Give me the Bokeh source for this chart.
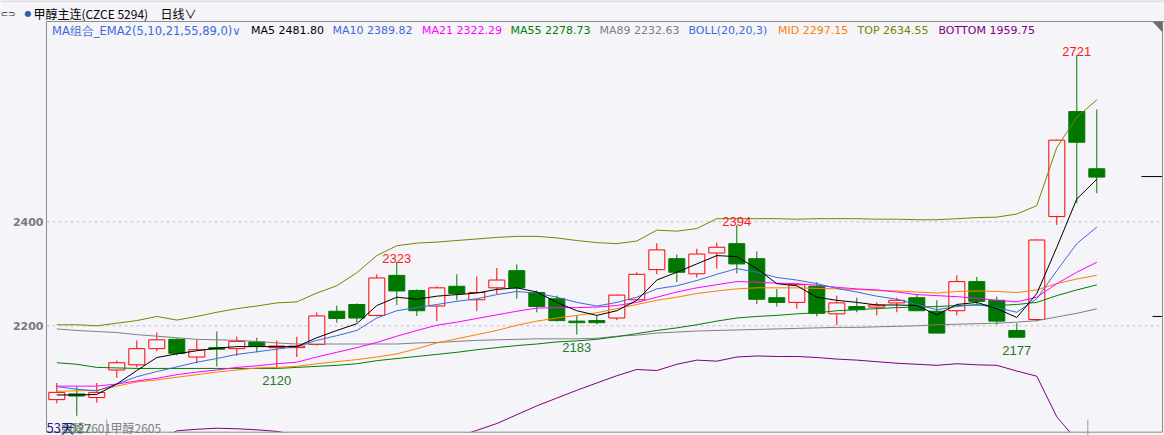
from bokeh.plotting import figure
from bokeh.models import Label, Range1d, ColumnDataSource
from bokeh.embed import file_html
from bokeh.resources import INLINE
from bokeh.core.properties import value

# ---------------- data (daily candles, 甲醇主连) ----------------
opens = [2058, 2069, 2062, 2115, 2125, 2156, 2174, 2140, 2158, 2156,
         2169, 2158, 2158, 2164, 2228, 2241, 2220, 2297, 2268, 2238,
         2276, 2250, 2273, 2306, 2264, 2252, 2209, 2210, 2215, 2250,
         2308, 2329, 2300, 2340, 2358, 2329, 2254, 2245, 2276, 2223,
         2237, 2236, 2244, 2254, 2228, 2229, 2285, 2249, 2191, 2212,
         2410, 2612, 2502]
highs = [2090, 2083, 2090, 2133, 2172, 2187, 2176, 2174, 2189, 2179,
         2177, 2172, 2179, 2226, 2239, 2243, 2299, 2323, 2270, 2276,
         2299, 2295, 2311, 2318, 2268, 2258, 2220, 2219, 2260, 2303,
         2359, 2337, 2348, 2360, 2394, 2343, 2271, 2282, 2284, 2258,
         2254, 2245, 2254, 2260, 2249, 2297, 2294, 2256, 2205, 2366,
         2558, 2721, 2616]
lows = [2051, 2027, 2052, 2100, 2120, 2151, 2143, 2128, 2122, 2142,
        2149, 2120, 2140, 2162, 2206, 2207, 2218, 2240, 2219, 2209,
        2249, 2228, 2261, 2252, 2226, 2208, 2183, 2203, 2211, 2249,
        2299, 2284, 2293, 2310, 2301, 2242, 2237, 2233, 2218, 2201,
        2226, 2220, 2226, 2228, 2186, 2220, 2239, 2202, 2177, 2208,
        2394, 2436, 2455]
closes = [2072, 2065, 2072, 2129, 2156, 2173, 2147, 2154, 2155, 2170,
          2161, 2161, 2161, 2219, 2214, 2215, 2292, 2267, 2229, 2273,
          2262, 2264, 2288, 2273, 2237, 2210, 2206, 2206, 2259, 2299,
          2346, 2303, 2338, 2351, 2319, 2251, 2245, 2279, 2224, 2244,
          2231, 2240, 2249, 2229, 2186, 2285, 2247, 2209, 2178, 2365,
          2557, 2553, 2486]

# indicator lines
ma5 = [2067, 2067, 2068, 2088, 2114, 2139, 2146, 2152, 2157, 2160,
       2160, 2160, 2160, 2177, 2191, 2204, 2239, 2255, 2251, 2257,
       2260, 2263, 2270, 2273, 2265, 2245, 2229, 2220, 2229, 2249,
       2288, 2303, 2319, 2335, 2333, 2310, 2281, 2277, 2255, 2249,
       2245, 2240, 2240, 2239, 2221, 2241, 2245, 2233, 2216, 2262,
       2351, 2444, 2481.80]
ma10 = [2083, 2078, 2075, 2088, 2102, 2112, 2121, 2130, 2137, 2145,
        2150, 2155, 2160, 2172, 2181, 2191, 2215, 2229, 2235, 2241,
        2247, 2252, 2260, 2266, 2263, 2255, 2245, 2238, 2245, 2255,
        2271, 2277, 2287, 2299, 2310, 2303, 2293, 2288, 2281, 2272,
        2265, 2257, 2251, 2241, 2231, 2237, 2241, 2235, 2226, 2252,
        2306, 2358, 2389.82]
ma21 = [2084, 2084, 2084, 2088, 2094, 2099, 2106, 2111, 2115, 2120,
        2123, 2127, 2130, 2140, 2149, 2158, 2168, 2180, 2191, 2201,
        2207, 2214, 2221, 2228, 2234, 2235, 2235, 2236, 2239, 2245,
        2255, 2265, 2273, 2279, 2285, 2284, 2282, 2281, 2278, 2274,
        2271, 2269, 2265, 2260, 2258, 2256, 2253, 2249, 2246, 2255,
        2281, 2303, 2322.29]
ma55 = [2129, 2126, 2120, 2119, 2118, 2118, 2118, 2118, 2118, 2118,
        2118, 2118, 2120, 2122, 2124, 2127, 2133, 2137, 2141, 2145,
        2149, 2154, 2158, 2162, 2165, 2169, 2171, 2174, 2179, 2185,
        2191, 2196, 2202, 2209, 2215, 2218, 2220, 2223, 2225, 2229,
        2231, 2233, 2235, 2236, 2237, 2239, 2240, 2239, 2241, 2245,
        2258, 2269, 2278.73]
ma89 = [2194, 2191, 2189, 2187, 2183, 2180, 2177, 2174, 2173, 2172,
        2170, 2167, 2165, 2165, 2165, 2165, 2165, 2165, 2167, 2168,
        2170, 2172, 2173, 2174, 2175, 2175, 2175, 2176, 2180, 2182,
        2186, 2188, 2190, 2191, 2192, 2193, 2194, 2195, 2196, 2197,
        2197, 2198, 2199, 2200, 2202, 2203, 2204, 2205, 2207, 2210,
        2217, 2224, 2232.63]
boll_mid = [2074, 2075, 2076, 2084, 2092, 2096, 2101, 2106, 2111, 2115,
            2119, 2120, 2122, 2127, 2131, 2135, 2140, 2146, 2156, 2167,
            2175, 2183, 2191, 2201, 2209, 2215, 2220, 2225, 2233, 2241,
            2249, 2255, 2262, 2267, 2271, 2273, 2273, 2273, 2272, 2271,
            2270, 2268, 2267, 2265, 2263, 2266, 2267, 2266, 2264, 2269,
            2281, 2290, 2297.15]
boll_top = [2202, 2202, 2200, 2205, 2210, 2218, 2211, 2218, 2226, 2233,
            2238, 2244, 2246, 2263, 2277, 2302, 2335, 2354, 2359, 2361,
            2364, 2367, 2370, 2372, 2372, 2369, 2364, 2360, 2358, 2363,
            2384, 2382, 2387, 2406, 2406, 2406, 2406, 2405, 2406, 2406,
            2406, 2405, 2405, 2404, 2404, 2406, 2408, 2409, 2415, 2431,
            2543, 2601, 2634.55]
boll_bottom = [1946, 1948, 1952, 1963, 1972, 1976, 1998, 2001, 2003, 2002,
               2000, 1997, 1990, 1985, 1980, 1968, 1945, 1938, 1953, 1972,
               1986, 1999, 2012, 2029, 2046, 2061, 2076, 2090, 2104, 2116,
               2114, 2126, 2134, 2132, 2140, 2142, 2141, 2141, 2139, 2136,
               2134, 2131, 2128, 2126, 2124, 2127, 2125, 2124, 2113, 2103,
               2025, 1980, 1959.75]

y_ticks = [2200, 2400]
high_marks = [17, 34, 51]        # candles whose high is labelled
low_marks = [1, 11, 26, 48]      # candles whose low is labelled
right_marks = [2487, 2218]
contract_marks = [2.5, 51.55]    # small separators on the time axis

legend_items = [
    ("MA组合_EMA2(5,10,21,55,89,0)∨", "#3d6bd6", 51.5),
    ("MA5 2481.80", "#000000", 250.5),
    ("MA10 2389.82", "#3d6bd6", 332),
    ("MA21 2322.29", "#ff00ff", 421.5),
    ("MA55 2278.73", "#008000", 510),
    ("MA89 2232.63", "#808080", 599),
    ("BOLL(20,20,3)", "#3d6bd6", 688),
    ("MID 2297.15", "#ff8000", 777.5),
    ("TOP 2634.55", "#808000", 857),
    ("BOTTOM 1959.75", "#800080", 938),
]

# ---------------- layout helpers (page pixels -> data) ----------------
BG = "#f4f4f9"
W, H = 1164, 435
PX_PER_UNIT = 0.52
Y2400 = 221.3          # page y of the 2400 level
X0, DX = 56.3, 20.0    # page x of first candle, candle spacing
LEFT, RIGHT, TOP, BOTTOM = 46, 1162, 21, 431.7


def px(page_x):
    return (page_x - X0) / DX


def py(page_y):
    return 2400 - (page_y - Y2400) / PX_PER_UNIT


n = len(closes)
idx = list(range(n))

p = figure(width=W, height=H, output_backend="svg", toolbar_location=None,
           x_range=Range1d(px(0), px(W)), y_range=Range1d(py(H), py(0)),
           min_border=0, background_fill_color=BG, border_fill_color=BG,
           outline_line_color=None, x_axis_location=None, y_axis_location=None)
p.grid.visible = False

GRAY = "#8c8c8c"
# price grid (dashed) and tick labels
p.segment(x0=[px(LEFT)] * len(y_ticks), y0=y_ticks, x1=[px(RIGHT)] * len(y_ticks), y1=y_ticks,
          line_color="#c4c4c8", line_width=1, line_dash="3 3")
p.text(x=[px(43)] * len(y_ticks), y=y_ticks, text=[str(t) for t in y_ticks],
       text_color="#7a7a7a", text_font=value("DejaVu Sans"), text_font_size="11px",
       text_font_style="bold", text_align="right", text_baseline="middle")

# ---------------- candles ----------------
up = [i for i in idx if closes[i] >= opens[i]]
dn = [i for i in idx if closes[i] < opens[i]]
RED = "#ff0000"
GREEN = "#007800"

src_up = ColumnDataSource(dict(
    x=up, o=[opens[i] for i in up], c=[closes[i] for i in up],
    h=[highs[i] for i in up], l=[lows[i] for i in up]))
src_dn = ColumnDataSource(dict(
    x=dn, o=[opens[i] for i in dn], c=[closes[i] for i in dn],
    h=[highs[i] for i in dn], l=[lows[i] for i in dn]))

p.segment(x0="x", y0="h", x1="x", y1="c", source=src_up, line_color=RED, line_width=1)
p.segment(x0="x", y0="o", x1="x", y1="l", source=src_up, line_color=RED, line_width=1)
p.vbar(x="x", width=0.8, top="c", bottom="o", source=src_up,
       fill_color=BG, line_color=RED, line_width=1)

p.segment(x0="x", y0="h", x1="x", y1="l", source=src_dn, line_color=GREEN, line_width=1)
p.vbar(x="x", width=0.8, top="o", bottom="c", source=src_dn,
       fill_color=GREEN, line_color=GREEN, line_width=1)

# ---------------- indicator lines ----------------
p.line(idx, boll_top, line_color="#808000", line_width=1)
p.line(idx, boll_bottom, line_color="#800080", line_width=1)
p.line(idx, ma89, line_color="#808080", line_width=1)
p.line(idx, ma55, line_color="#008000", line_width=1)
p.line(idx, boll_mid, line_color="#ff8000", line_width=1)
p.line(idx, ma21, line_color="#ff00ff", line_width=1)
p.line(idx, ma10, line_color="#3d6bd6", line_width=1)
p.line(idx, ma5, line_color="#000000", line_width=1)

# mask below the chart frame (time-axis strip)
p.quad(left=[px(0)], right=[px(W)], bottom=[py(H + 5)], top=[py(BOTTOM)],
       fill_color=BG, line_color=None)

# right-edge markers
p.segment(x0=[px(1141), px(1152)], y0=right_marks, x1=[px(RIGHT)] * 2, y1=right_marks,
          line_color="#000000", line_width=1)

# ---------------- frame lines ----------------
p.segment(x0=[px(LEFT), px(LEFT), px(RIGHT), px(LEFT)],
          y0=[py(TOP), py(TOP), py(TOP), py(BOTTOM)],
          x1=[px(W), px(LEFT), px(RIGHT), px(RIGHT)],
          y1=[py(TOP), py(BOTTOM), py(BOTTOM), py(BOTTOM)],
          line_color=GRAY, line_width=1)
p.segment(x0=[px(0)], y0=[py(0.5)], x1=[px(W)], y1=[py(0.5)], line_color="#dcdce2", line_width=2)
p.patch(x=[px(1152), px(RIGHT), px(RIGHT)], y=[py(TOP), py(TOP), py(32)],
        fill_color="#6e6e6e", line_color=None)
p.segment(x0=contract_marks, y0=[py(419)] * 2, x1=contract_marks, y1=[py(H)] * 2,
          line_color="#9a9a9a", line_width=1)

# ---------------- high / low value labels ----------------
hs = ColumnDataSource(dict(x=high_marks, y=[highs[i] for i in high_marks],
                           t=[str(highs[i]) for i in high_marks]))
ls = ColumnDataSource(dict(x=low_marks, y=[lows[i] for i in low_marks],
                           t=[str(lows[i]) for i in low_marks]))
p.text(x="x", y="y", text="t", source=hs, text_color="#ff1a1a",
       text_font=value("Liberation Sans"), text_font_size="13px",
       text_align="center", text_baseline="alphabetic", y_offset=-3)
p.text(x="x", y="y", text="t", source=ls, text_color="#1f7a2a",
       text_font=value("Liberation Sans"), text_font_size="13px",
       text_align="center", text_baseline="alphabetic", y_offset=13)

# ---------------- legend row ----------------
for k, (txt, col, xp) in enumerate(legend_items):
    p.add_layout(Label(x=px(xp), y=py(30), text=txt, text_color=col,
                       text_font="DejaVu Sans", text_font_size="11.5px" if k == 0 else "11px",
                       text_baseline="middle", text_align="left"))

# ---------------- header ----------------
p.add_layout(Label(x=px(0), y=py(13), text="⊂⊃", text_color="#303030",
                   text_font="DejaVu Sans", text_font_size="9px",
                   text_baseline="middle", text_align="left"))
p.add_layout(Label(x=px(24), y=py(13), text="●", text_color="#2f5ea8",
                   text_font="DejaVu Sans", text_font_size="8px",
                   text_baseline="middle", text_align="left"))
p.add_layout(Label(x=px(33), y=py(13), text="甲醇主连(CZCE 5294)", text_color="#000000",
                   text_font="Noto Sans CJK SC", text_font_size="12px",
                   text_baseline="middle", text_align="left"))
p.add_layout(Label(x=px(160), y=py(13), text="日线∨", text_color="#000000",
                   text_font="Noto Sans CJK SC", text_font_size="12px",
                   text_baseline="middle", text_align="left"))

# ---------------- bottom texts ----------------
p.add_layout(Label(x=px(60), y=py(426.5), text="甲醇2601", text_color="#808080",
                   text_font="Noto Sans CJK SC", text_font_size="12px",
                   text_baseline="alphabetic", text_align="left"))
p.add_layout(Label(x=px(110), y=py(426.5), text="甲醇2605", text_color="#808080",
                   text_font="Noto Sans CJK SC", text_font_size="12px",
                   text_baseline="alphabetic", text_align="left"))
p.add_layout(Label(x=px(46), y=py(426.5), text="53天", text_color="#1c1c8c",
                   text_font="Noto Sans CJK SC", text_font_size="13px",
                   text_baseline="alphabetic", text_align="left"))

open("out.html", "w").write(file_html(p, INLINE))
